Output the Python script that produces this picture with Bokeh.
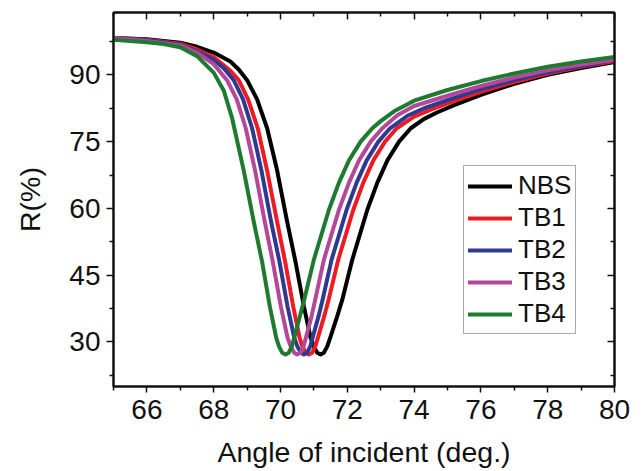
from bokeh.plotting import figure
from bokeh.models import LinearAxis, FixedTicker, Range1d, Legend, LegendItem
from bokeh.embed import file_html
from bokeh.resources import INLINE

# ---- data ----
series_names = ["NBS", "TB1", "TB2", "TB3", "TB4"]

x_nbs = [65, 66, 67, 67.5, 68, 68.5, 68.75, 69, 69.3, 69.6, 69.9, 70.2, 70.45, 70.7, 70.9, 71.0, 71.1, 71.2, 71.3, 71.4, 71.5,
         71.7, 71.85, 72.15, 72.6, 72.9, 73.2, 73.55, 73.9, 74.3, 74.7, 75.2, 76, 77, 78, 79, 80]
r_nbs = [98.3, 98.0, 97.2, 96.3, 95.0, 93.0, 91.2, 88.8, 84.5, 78.0, 68.5, 57.0, 48.0, 38.0, 31.0, 28.9, 27.6, 27.2, 27.6, 29.0, 31.2,
         35.8, 39.5, 48.5, 59.7, 65.8, 70.8, 75.0, 78.0, 80.1, 81.6, 83.2, 85.5, 88.0, 90.0, 91.5, 92.9]

x_tb1 = [65, 66, 67, 67.5, 68, 68.5, 68.75, 69.03, 69.32, 69.6, 69.9, 70.14, 70.38, 70.57, 70.66, 70.76, 70.85, 70.95, 71.04, 71.13,
         71.31, 71.44, 71.73, 72.18, 72.48, 72.78, 73.13, 73.48, 74.0, 74.5, 75, 76, 77, 78, 79, 80]
r_tb1 = [98.3, 97.9, 97.0, 95.7, 94.0, 90.9, 88.8, 84.5, 78.0, 68.5, 57.0, 48.0, 38.0, 31.0, 28.9, 27.6, 27.2, 27.6, 29.0, 31.2,
         35.8, 39.5, 48.5, 59.7, 65.8, 70.8, 75.0, 78.0, 80.6, 82.2, 83.6, 86.2, 88.4, 90.3, 91.8, 93.1]

x_tb2 = [65, 66, 67, 67.5, 68, 68.3, 68.6, 68.88, 69.15, 69.43, 69.72, 69.97, 70.21, 70.41, 70.51, 70.61, 70.7, 70.8, 70.89, 70.97,
         71.14, 71.26, 71.53, 71.98, 72.28, 72.58, 72.93, 73.28, 73.8, 74.3, 75, 76, 77, 78, 79, 80]
r_tb2 = [98.3, 97.8, 96.8, 95.3, 93.4, 91.5, 88.8, 84.5, 78.0, 68.5, 57.0, 48.0, 38.0, 31.0, 28.9, 27.6, 27.2, 27.6, 29.0, 31.2,
         35.8, 39.5, 48.5, 59.7, 65.8, 70.8, 75.0, 78.0, 80.8, 82.5, 84.3, 86.8, 88.8, 90.6, 92.0, 93.3]

x_tb3 = [65, 66, 67, 67.5, 68, 68.4, 68.69, 68.96, 69.24, 69.53, 69.77, 70.01, 70.21, 70.31, 70.41, 70.5, 70.6, 70.69, 70.77, 70.93,
         71.04, 71.3, 71.75, 72.05, 72.35, 72.7, 73.05, 73.5, 74.0, 75, 76, 77, 78, 79, 80]
r_tb3 = [98.2, 97.6, 96.6, 95.0, 92.4, 88.8, 84.5, 78.0, 68.5, 57.0, 48.0, 38.0, 31.0, 28.9, 27.6, 27.2, 27.6, 29.0, 31.2, 35.8,
         39.5, 48.5, 59.7, 65.8, 70.8, 75.0, 78.0, 80.9, 83.0, 85.3, 87.5, 89.4, 91.0, 92.3, 93.4]

x_tb4 = [65, 66, 66.5, 67, 67.5, 68, 68.3, 68.55, 68.9, 69.2, 69.45, 69.68, 69.87, 69.96, 70.05, 70.15, 70.25, 70.34, 70.42, 70.58,
         70.71, 71.0, 71.45, 71.75, 72.05, 72.4, 72.75, 73.0, 73.4, 74.0, 75, 76, 77, 78, 79, 80]
r_tb4 = [97.9, 97.3, 96.9, 96.2, 94.2, 90.5, 86.5, 80.3, 68.5, 57.0, 48.0, 38.0, 31.0, 28.9, 27.6, 27.2, 27.6, 29.0, 31.2, 35.8,
         39.5, 48.5, 59.7, 65.8, 70.8, 75.0, 78.0, 79.6, 81.8, 84.2, 86.6, 88.6, 90.3, 91.8, 93.0, 94.0]

x_ticks = [66, 68, 70, 72, 74, 76, 78, 80]
x_minor = [65, 67, 69, 71, 73, 75, 77, 79]
y_ticks = [30, 45, 60, 75, 90]
y_minor = [22.5, 37.5, 52.5, 67.5, 82.5, 97.5]

colors = ["#000000", "#ED1C24", "#2E3A8F", "#B5479B", "#1D7A2F"]
xs = [x_nbs, x_tb1, x_tb2, x_tb3, x_tb4]
rs = [r_nbs, r_tb1, r_tb2, r_tb3, r_tb4]

FONT = "Liberation Sans"

p = figure(width=642, height=471, x_range=Range1d(65, 80), y_range=Range1d(20, 104),
           output_backend="svg", toolbar_location=None,
           min_border_left=113, min_border_right=28, min_border_top=12, min_border_bottom=85)
p.xgrid.visible = False
p.ygrid.visible = False
p.outline_line_color = "#111111"
p.outline_line_width = 2
p.background_fill_color = "white"
p.border_fill_color = "white"

renderers = []
for x, r, c in zip(xs, rs, colors):
    renderers.append(p.line(x, r, line_width=4, line_color=c, line_join="round", line_cap="round"))

def style_axis(ax, labels=True, inward=False):
    ax.axis_line_width = 2
    ax.axis_line_color = "#111111"
    ax.major_tick_line_width = 1.5
    ax.minor_tick_line_width = 1.5
    ax.major_tick_line_color = "#111111"
    ax.minor_tick_line_color = "#111111"
    if inward:
        ax.major_tick_in = 7
        ax.major_tick_out = 0
        ax.minor_tick_in = 4
        ax.minor_tick_out = 0
    else:
        ax.major_tick_in = 0
        ax.major_tick_out = 7
        ax.minor_tick_in = 0
        ax.minor_tick_out = 4
    if labels:
        ax.major_label_text_font = FONT
        ax.major_label_text_font_size = "28px"
        ax.major_label_text_color = "#111111"
        ax.axis_label_text_font = FONT
        ax.axis_label_text_font_size = "28.5px"
        ax.axis_label_text_font_style = "normal"
        ax.axis_label_text_color = "#111111"
    else:
        ax.major_label_text_font_size = "0px"
        ax.major_label_standoff = 0

p.xaxis.ticker = FixedTicker(ticks=x_ticks, minor_ticks=x_minor)
p.yaxis.ticker = FixedTicker(ticks=y_ticks, minor_ticks=y_minor)
p.xaxis.axis_label = "Angle of incident (deg.)"
p.yaxis.axis_label = "R(%)"
style_axis(p.xaxis[0])
style_axis(p.yaxis[0])
p.xaxis.major_tick_out = 6
p.xaxis.major_label_standoff = 7
p.yaxis.major_label_standoff = 6
p.xaxis.axis_label_standoff = 14
p.yaxis.axis_label_standoff = 20

top = LinearAxis(ticker=FixedTicker(ticks=x_ticks, minor_ticks=x_minor))
style_axis(top, labels=False, inward=True)
p.add_layout(top, "above")
right = LinearAxis(ticker=FixedTicker(ticks=y_ticks, minor_ticks=y_minor))
style_axis(right, labels=False, inward=True)
p.add_layout(right, "right")

items = [LegendItem(label=n, renderers=[r]) for n, r in zip(series_names, renderers)]
legend = Legend(items=items, location=(350, 52))
legend.label_text_font = FONT
legend.label_text_font_size = "26px"
legend.label_text_color = "#111111"
legend.glyph_width = 44
legend.glyph_height = 20
legend.label_height = 20
legend.spacing = 1
legend.padding = 4
legend.margin = 0
legend.label_standoff = 6
legend.border_line_color = "#555555"
legend.border_line_width = 1
legend.background_fill_color = "white"
legend.background_fill_alpha = 1
p.add_layout(legend)

open("out.html", "w").write(file_html(p, INLINE))
